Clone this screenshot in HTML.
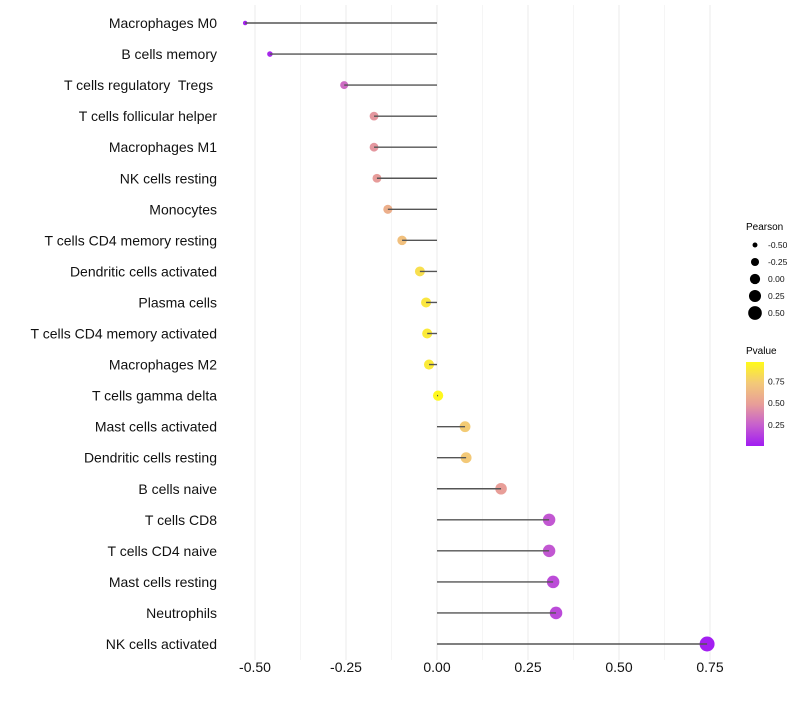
<!DOCTYPE html>
<html><head><meta charset="utf-8"><style>
body{margin:0;background:#fff;font-family:"Liberation Sans",sans-serif}
text{white-space:pre}
</style></head><body>
<svg id="chart" width="800" height="700" xmlns="http://www.w3.org/2000/svg" font-family="Liberation Sans, sans-serif">
<defs><linearGradient id="pg" x1="0" y1="1" x2="0" y2="0">
<stop offset="0" stop-color="#a11cf2"/><stop offset="0.26" stop-color="#c862cc"/><stop offset="0.5" stop-color="#e89e98"/><stop offset="0.75" stop-color="#f3c978"/><stop offset="1" stop-color="#fffa1a"/></linearGradient></defs>
<g id="grid"></g>
<g id="points"></g>
<g id="segs"></g>
<g id="ylabels"></g>
<g id="xlabels"></g>
<g>
<text x="746" y="230" font-size="10">Pearson</text>
<g id="sizeleg"></g>
</g>
<g>
<text x="746" y="354" font-size="10">Pvalue</text>
<rect x="746" y="362" width="18" height="84" fill="url(#pg)"/>
<g id="colleg"></g>
</g>
</svg>
<script>
const categories=["Macrophages M0","B cells memory","T cells regulatory  Tregs ","T cells follicular helper","Macrophages M1","NK cells resting","Monocytes","T cells CD4 memory resting","Dendritic cells activated","Plasma cells","T cells CD4 memory activated","Macrophages M2","T cells gamma delta","Mast cells activated","Dendritic cells resting","B cells naive","T cells CD8","T cells CD4 naive","Mast cells resting","Neutrophils","NK cells activated"];
const pearson=[-0.527,-0.459,-0.255,-0.173,-0.173,-0.165,-0.135,-0.096,-0.047,-0.030,-0.027,-0.022,0.003,0.077,0.080,0.176,0.308,0.308,0.319,0.327,0.742];
const pvalue=[0.02,0.04,0.3,0.47,0.47,0.49,0.6,0.7,0.86,0.9,0.92,0.92,0.99,0.76,0.75,0.5,0.22,0.22,0.18,0.17,0.01];
const xTicks=[-0.5,-0.25,0,0.25,0.5,0.75];
const xTickLabels=["-0.50","-0.25","0.00","0.25","0.50","0.75"];
const sizeLegend=[-0.5,-0.25,0,0.25,0.5];
const colorLegend=[0.25,0.5,0.75];
const NS="http://www.w3.org/2000/svg";
function X(v){return 437+v*364;}
function Y(i){return 23+i*31.05;}
const vmin=Math.min(...pearson),vmax=Math.max(...pearson);
function R(v){let f=(v-vmin)/(vmax-vmin);f=Math.max(0,Math.min(1,f));return Math.sqrt(5+f*(56.25-5));}
const stops=[[0,[161,28,242]],[0.26,[200,98,204]],[0.5,[232,158,152]],[0.75,[243,201,120]],[1,[255,250,26]]];
function C(p){for(let k=1;k<stops.length;k++){if(p<=stops[k][0]){const a=stops[k-1],b=stops[k];const t=(p-a[0])/(b[0]-a[0]);const c=a[1].map((x,j)=>Math.round(x+(b[1][j]-x)*t));return `rgb(${c})`;}}return "rgb(255,250,26)";}
function mk(t,at,parent){const e=document.createElementNS(NS,t);for(const k in at)e.setAttribute(k,at[k]);document.getElementById(parent).appendChild(e);return e;}
for(let k=0;k<xTicks.length;k++){
 const g=mk('line',{x1:X(xTicks[k]),x2:X(xTicks[k]),y1:5,y2:660,stroke:'#ebebeb','stroke-width':1},'grid');
 
 
 if(k<xTicks.length-1){const m=mk('line',{x1:X((xTicks[k]+xTicks[k+1])/2),x2:X((xTicks[k]+xTicks[k+1])/2),y1:5,y2:660,stroke:'#f5f5f5','stroke-width':1},'grid');
 
 }
 const t=mk('text',{x:X(xTicks[k]),y:672,'font-size':14,'text-anchor':'middle',fill:'#111'},'xlabels');
 t.textContent=xTickLabels[k];
 
 
}
categories.forEach((c,i)=>{
 const t=mk('text',{x:217,y:Y(i)+5,'font-size':14,'text-anchor':'end',fill:'#111'},'ylabels');
 t.textContent=c;
 
 
 const p=mk('circle',{cx:X(pearson[i]),cy:Y(i),r:R(pearson[i]),fill:C(pvalue[i])},'points');
 
 
 const s=mk('line',{x1:X(0),x2:X(pearson[i]),y1:Y(i),y2:Y(i),stroke:'#555','stroke-width':1.4},'segs');
 
 
});
sizeLegend.forEach((v,k)=>{
 const y=245+k*17;
 const c=mk('circle',{cx:755,cy:y,r:R(v),fill:'#000'},'sizeleg');
 
 
 const t=mk('text',{x:768,y:y+3,'font-size':8.5,fill:'#111'},'sizeleg');
 t.textContent=v.toFixed(2);
 
 
});
colorLegend.forEach(v=>{
 const y=446-(v-0.01)/0.96*84;
 const t=mk('text',{x:768,y:y+3,'font-size':8.5,fill:'#111'},'colleg');
 t.textContent=v.toFixed(2);
 
 
});
</script>
</body></html>
